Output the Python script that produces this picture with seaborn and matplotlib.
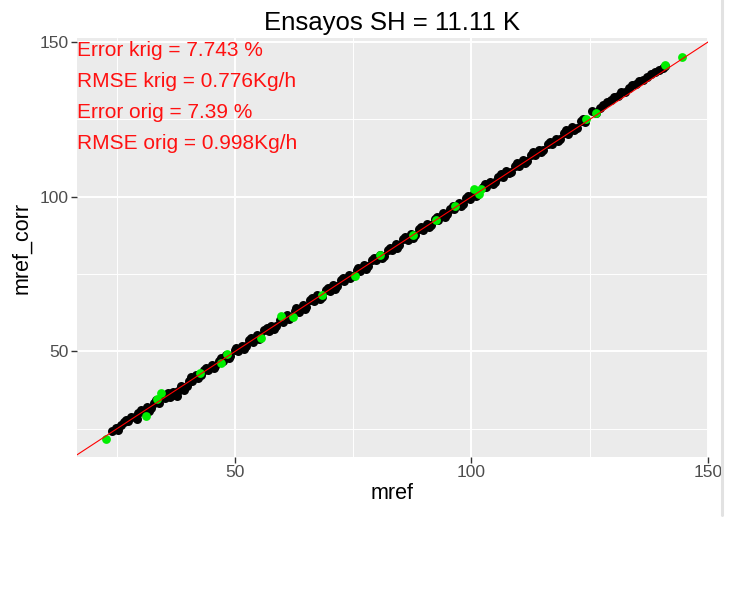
import matplotlib
matplotlib.use("Agg")
import matplotlib.pyplot as plt
import seaborn as sns
import pandas as pd
from matplotlib.lines import Line2D
from matplotlib.ticker import MultipleLocator

# ---------------- data ----------------
mref_krig = [24.0, 24.8, 25.9, 26.5, 27.4, 28.1, 28.9, 29.6, 30.7, 31.3, 32.2, 32.8, 33.9, 34.6,
             35.2, 36.3, 36.9, 37.8, 38.6, 39.2, 40.3, 41.0, 41.7, 42.8, 43.4, 44.3, 45.1, 45.8,
             46.7, 47.5, 48.2, 49.0, 49.9, 50.6, 51.4, 52.3, 53.0, 53.8, 54.7, 55.3, 56.2, 57.1,
             57.7, 58.6, 59.5, 60.2, 61.1, 61.9, 62.6, 63.5, 64.3, 65.0, 65.9, 66.8, 67.4, 68.3,
             69.2, 70.0, 70.7, 71.6, 72.5, 73.1, 74.0, 74.9, 75.7, 76.4, 77.3, 78.2, 79.0, 79.8,
             80.6, 81.5, 82.3, 83.2, 84.0, 84.7, 85.6, 86.5, 87.2, 88.1, 89.0, 89.8, 90.5, 91.4,
             92.3, 93.0, 93.9, 94.8, 95.5, 96.4, 97.3, 98.1, 98.8, 99.7, 100.6, 101.3, 102.4,
             103.1, 104.0, 104.9, 105.7, 106.6, 107.4, 108.3, 109.2, 110.0, 110.9, 111.8, 112.6,
             113.5, 114.3, 115.2, 116.1, 117.0, 117.8, 118.7, 119.6, 120.4, 121.3, 122.2, 123.1,
             124.0, 125.5, 126.3, 127.8, 128.6, 129.5, 130.9, 131.7, 132.4, 134.0, 134.8, 136.2,
             137.0, 138.9, 139.6, 140.5,
             25.3, 27.0, 29.2, 30.1, 31.8, 33.2, 35.8, 37.3, 38.0, 39.8, 40.8, 42.2, 43.9, 45.5,
             47.1, 48.7, 50.2, 51.8, 53.4, 55.0, 56.7, 58.2, 59.9, 61.5, 63.0, 64.7, 66.3, 67.9,
             69.6, 71.2, 72.8, 74.4, 76.0, 77.7, 79.4, 81.0, 82.7, 84.3, 86.0, 87.7, 89.4, 91.0,
             92.7, 94.3, 96.0, 97.7, 99.3, 101.0, 102.9, 104.5, 106.2, 107.9, 109.6, 111.3,
             113.0, 114.8, 116.5, 118.2, 120.0, 121.7, 123.5, 127.1, 130.2, 133.2, 135.5,
             137.9, 141.0]
corr_krig = [24.3, 25.4, 26.1, 27.3, 27.6, 28.9, 28.7, 30.2, 30.3, 31.9, 31.6, 33.4, 33.5, 35.5,
             34.9, 35.2, 36.8, 35.6, 38.9, 37.4, 40.6, 40.5, 42.3, 42.5, 43.9, 44.0, 45.7, 45.2,
             46.9, 46.8, 48.8, 48.6, 50.4, 50.3, 51.9, 51.8, 53.6, 53.2, 55.3, 55.0, 56.8, 56.5,
             58.3, 58.2, 60.1, 59.6, 61.8, 61.3, 63.2, 62.9, 65.0, 64.5, 66.5, 66.2, 68.1, 67.7,
             69.8, 69.6, 71.4, 71.0, 73.1, 72.7, 74.6, 74.4, 76.4, 76.0, 77.9, 77.6, 79.7, 79.4,
             81.3, 81.0, 82.9, 82.7, 84.7, 84.3, 86.2, 85.9, 87.9, 87.6, 89.6, 89.3, 91.2, 90.9,
             92.9, 92.6, 94.6, 94.3, 96.2, 95.9, 97.9, 97.7, 99.6, 99.4, 101.2, 101.0, 103.3,
             103.0, 104.8, 104.7, 106.5, 106.3, 108.3, 108.1, 110.0, 109.9, 111.8, 111.6, 113.6,
             113.4, 115.2, 115.0, 117.1, 116.9, 118.8, 118.6, 120.7, 120.3, 122.5, 122.1, 124.4,
             124.2, 127.8, 127.2, 129.6, 130.5, 131.3, 132.6, 133.8, 134.0, 136.0, 136.5, 137.8,
             138.6, 140.4, 141.1, 141.5,
             24.6, 27.9, 28.3, 31.0, 30.8, 34.2, 36.6, 36.0, 37.2, 39.0, 41.6, 41.3, 44.8, 44.6,
             48.0, 47.8, 51.1, 50.9, 54.3, 54.1, 57.6, 57.3, 60.8, 60.6, 64.0, 63.8, 67.2, 67.0,
             70.5, 70.3, 73.8, 73.6, 76.9, 76.8, 80.3, 80.1, 83.6, 83.5, 86.9, 86.8, 90.3, 90.2,
             93.6, 93.5, 96.9, 96.9, 100.3, 100.4, 104.0, 104.0, 107.3, 107.6, 110.8, 111.0,
             114.3, 114.5, 117.8, 118.1, 121.5, 121.7, 125.0, 128.8, 132.3, 135.3, 137.5,
             139.8, 142.2]

mref_orig = [22.8, 31.2, 33.5, 34.4, 42.5, 47.1, 48.4, 55.4, 59.8, 62.3, 68.3, 75.3, 80.7,
             87.6, 92.4, 96.5, 100.5, 101.6, 102.1, 124.2, 126.4, 140.9, 144.4]
corr_orig = [21.6, 29.2, 34.6, 36.5, 43.0, 46.2, 49.3, 54.3, 61.6, 61.3, 68.1, 74.5, 81.3,
             87.6, 92.4, 97.0, 102.4, 100.8, 102.4, 125.1, 127.0, 142.7, 145.1]

annotations = ["Error krig = 7.743 %", "RMSE krig = 0.776Kg/h",
               "Error orig = 7.39 %", "RMSE orig = 0.998Kg/h"]
annot_y = [147.2, 137.3, 127.3, 117.3]

title = "Ensayos SH = 11.11 K"
x_ticks = [50, 100, 150]
y_ticks = [50, 100, 150]

xlim = (16.6, 150.0)
ylim = (15.9, 151.3)

df_k = pd.DataFrame({"mref": mref_krig, "mref_corr": corr_krig})
df_o = pd.DataFrame({"mref": mref_orig, "mref_corr": corr_orig})

# ---------------- style ----------------
sns.set_theme(style="darkgrid")
plt.rcParams["font.family"] = ["Liberation Sans", "DejaVu Sans"]

fig = plt.figure(figsize=(7.37, 6.07), dpi=100)
fig.patch.set_facecolor("white")
ax = fig.add_axes([77 / 737, 1 - 457 / 607, (708 - 77) / 737, (457 - 38) / 607])
ax.set_facecolor("#EBEBEB")

sns.scatterplot(data=df_k, x="mref", y="mref_corr", color="black", s=42,
                linewidth=0, ax=ax, zorder=3)
sns.scatterplot(data=df_o, x="mref", y="mref_corr", color="#00EE00", s=40,
                linewidth=0, ax=ax, zorder=4)
ax.axline((0, 0), slope=1, color="red", lw=0.8, zorder=5)

ax.set_xlim(*xlim)
ax.set_ylim(*ylim)
ax.set_xticks(x_ticks)
ax.set_yticks(y_ticks)
ax.xaxis.set_minor_locator(MultipleLocator(25))
ax.yaxis.set_minor_locator(MultipleLocator(25))
ax.grid(which="major", color="white", lw=1.4)
ax.grid(which="minor", color="white", lw=0.7)
ax.set_axisbelow(True)
for sp in ax.spines.values():
    sp.set_visible(False)

ax.tick_params(axis="both", which="major", length=4, width=1, color="#333333",
               labelsize=12.5, labelcolor="#4D4D4D", pad=2, bottom=True, left=True)
ax.tick_params(axis="both", which="minor", length=0)

ax.set_xlabel("mref", fontsize=15.5, color="black", labelpad=2)
ax.set_ylabel("mref_corr", fontsize=15.5, color="black", labelpad=5)
ax.set_title(title, fontsize=18.5, color="black", pad=6)

for txt, yy in zip(annotations, annot_y):
    ax.text(xlim[0], yy, txt, color="#FF1111", fontsize=15, ha="left", va="center",
            zorder=6)

fig.add_artist(Line2D([721.5 / 737, 721.5 / 737], [1.0, 1 - 515 / 607],
                      transform=fig.transFigure, color="#E2E2E2", lw=2.2))

fig.savefig("out.png", dpi=100)
